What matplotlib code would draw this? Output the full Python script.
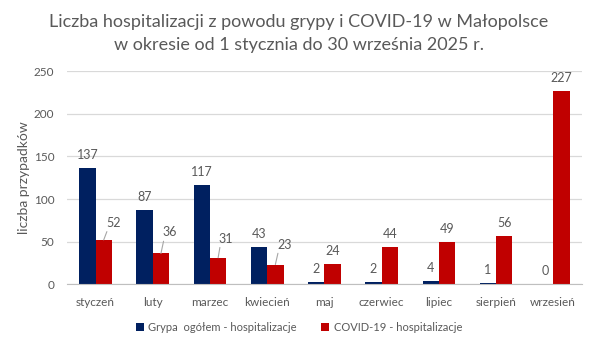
import numpy as np
import matplotlib
matplotlib.use("Agg")
import matplotlib.pyplot as plt

months = ['styczeń', 'luty', 'marzec', 'kwiecień', 'maj', 'czerwiec', 'lipiec', 'sierpień', 'wrzesień']
grypa = [137, 87, 117, 43, 2, 2, 4, 1, 0]
covid = [52, 36, 31, 23, 24, 44, 49, 56, 227]
# covid labels pulled aside with a leader line (offsets in pixels)
covid_leader = {0: (10, 17), 1: (9, 21), 2: (8, 19), 3: (9, 20)}

navy = '#002060'
red = '#C00000'
grey = '#595959'

plt.rcParams['font.family'] = ['Lato', 'DejaVu Sans']

fig = plt.figure(figsize=(5.98, 3.52), dpi=100)
ax = fig.add_axes([0.112, 0.193, 0.861, 0.604])

x = np.arange(len(months))
w = 0.285
ax.bar(x - w / 2, grypa, w, color=navy, label='Grypa  ogółem - hospitalizacje')
ax.bar(x + w / 2, covid, w, color=red, label='COVID-19 - hospitalizacje')

for i, v in enumerate(grypa):
    ax.annotate(str(v), (x[i] - w / 2, v), xytext=(0, 13), textcoords='offset pixels',
                ha='center', va='center', fontsize=9, color=grey)

for i, v in enumerate(covid):
    if i in covid_leader:
        dx, dy = covid_leader[i]
        ax.annotate(str(v), (x[i] + w / 2, v), xytext=(dx, dy), textcoords='offset pixels',
                    ha='center', va='center', fontsize=9, color=grey,
                    arrowprops=dict(arrowstyle='-', color='#A6A6A6', lw=0.8,
                                    shrinkA=0, shrinkB=0, relpos=(0.1, 0.0)))
    else:
        ax.annotate(str(v), (x[i] + w / 2, v), xytext=(0, 13), textcoords='offset pixels',
                    ha='center', va='center', fontsize=9, color=grey)

ax.set_xlim(-0.5, len(months) - 0.5)
ax.set_ylim(0, 250)
ax.set_yticks(range(0, 251, 50))
ax.set_xticks(x)
ax.set_xticklabels(months)
ax.tick_params(axis='both', length=0, colors=grey, labelsize=8.5)
ax.tick_params(axis='x', pad=9)
ax.tick_params(axis='y', pad=9)
ax.grid(axis='y', color='#D9D9D9', lw=0.9)
ax.set_axisbelow(True)
for s in ['top', 'right', 'left']:
    ax.spines[s].set_visible(False)
ax.spines['bottom'].set_color('#BFBFBF')
ax.set_ylabel('liczba przypadków', fontsize=10, color=grey, labelpad=3)

fig.text(0.5, 0.937, 'Liczba hospitalizacji z powodu grypy i COVID-19 w Małopolsce',
         ha='center', va='center', fontsize=13, color=grey)
fig.text(0.5, 0.872, 'w okresie od 1 stycznia do 30 września 2025 r.',
         ha='center', va='center', fontsize=13, color=grey)

fig.legend(loc='center', bbox_to_anchor=(0.5, 0.071), ncol=2, frameon=False,
           fontsize=8, labelcolor=grey, handlelength=0.7, handleheight=0.7,
           handletextpad=0.4, columnspacing=2.2)

fig.savefig('out.png', dpi=100)
